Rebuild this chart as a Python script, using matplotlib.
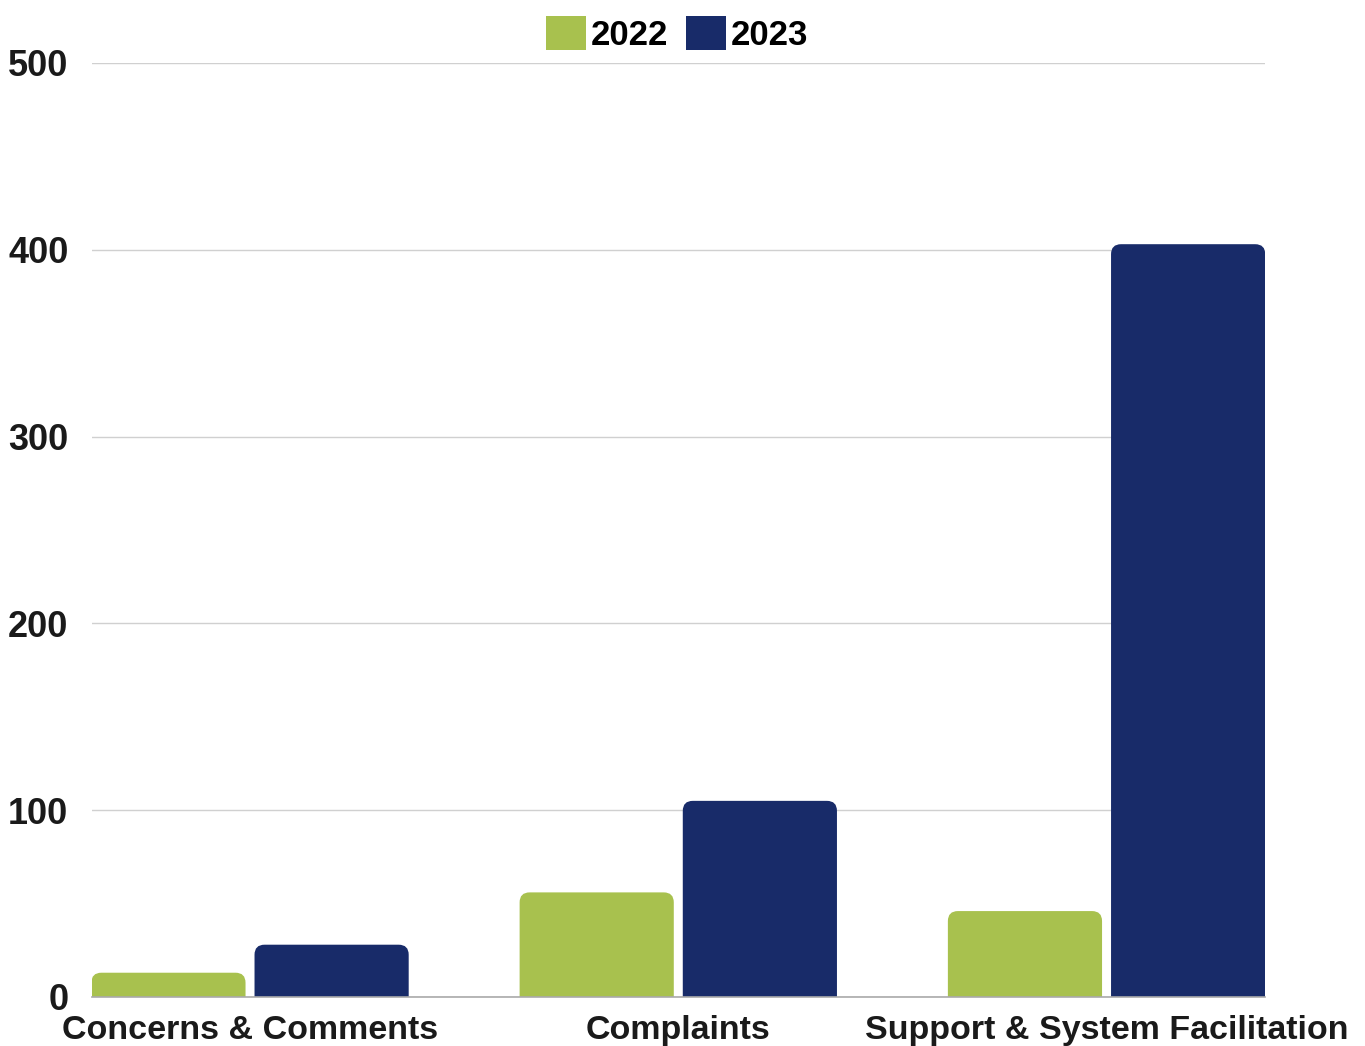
import numpy as np
import matplotlib.pyplot as plt
from matplotlib.patches import FancyBboxPatch, Patch

categories = ['Concerns & Comments', 'Complaints', 'Support & System Facilitation']
vals_2022 = [13, 56, 46]
vals_2023 = [28, 105, 403]
years = ['2022', '2023']
colors = ['#A8C14E', '#182B69']

plt.rcParams['font.family'] = ['Liberation Sans', 'DejaVu Sans']
plt.rcParams['font.weight'] = 'bold'

W, H = 1365, 1046
fig = plt.figure(figsize=(W / 100, H / 100), dpi=100)
ax = fig.add_axes([92 / W, (H - 997) / H, (1265 - 92) / W, (997 - 63) / H])

x = np.arange(len(categories))
bw = 0.36
off = 0.1905
ymax = 500
xlo, xhi = -0.369, 2.37
ax.set_xlim(xlo, xhi)
ax.set_ylim(0, ymax)

# rounded top corners: radius ~10 px
px_per_x = (1265 - 92) / (xhi - xlo)
px_per_y = (997 - 63) / ymax
r = 10 / px_per_x
aspect = px_per_x / px_per_y

for vals, dx, c in [(vals_2022, -off, colors[0]), (vals_2023, off, colors[1])]:
    for xi, v in zip(x, vals):
        p = FancyBboxPatch((xi + dx - bw / 2, -20), bw, v + 20,
                           boxstyle=f'round,pad=0,rounding_size={r}',
                           mutation_aspect=aspect, facecolor=c,
                           edgecolor='none', zorder=3)
        ax.add_patch(p)

ax.set_yticks(np.arange(0, 501, 100))
ax.yaxis.grid(True, color='#d0d0d0', linewidth=1, zorder=0)
ax.set_axisbelow(True)
for s in ['top', 'right', 'left']:
    ax.spines[s].set_visible(False)
ax.spines['bottom'].set_color('#aaaaaa')
ax.spines['bottom'].set_linewidth(1.2)
ax.spines['bottom'].set_zorder(4)
ax.tick_params(axis='y', length=0, pad=17, labelsize=26, labelcolor='#1a1a1a')
ax.tick_params(axis='x', length=0, pad=13, labelsize=24.5, labelcolor='#1a1a1a')
ax.set_xticks(x)
ax.set_xticklabels(categories)
for lbl in ax.get_yticklabels():
    lbl.set_verticalalignment('center_baseline')

handles = [Patch(facecolor=c, edgecolor='none') for c in colors]
fig.legend(handles, years, loc='center', bbox_to_anchor=(677 / W, 1 - 34 / H),
           ncol=2, frameon=False, fontsize=25, handlelength=1.15, handleheight=1.15,
           handletextpad=0.15, columnspacing=0.5)

fig.savefig('out.png', dpi=100)
